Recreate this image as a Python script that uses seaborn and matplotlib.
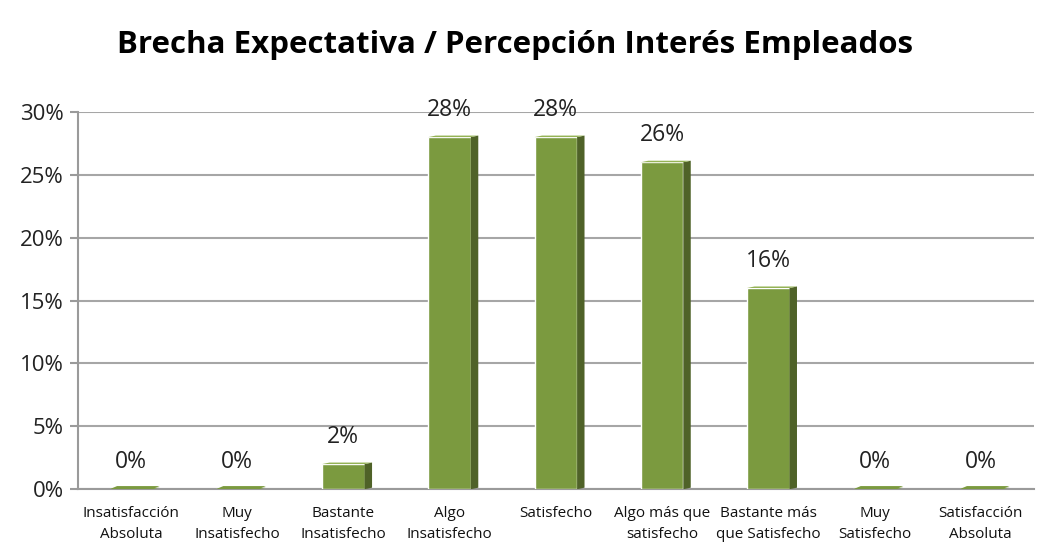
import matplotlib
matplotlib.use("Agg")
import matplotlib.pyplot as plt
import seaborn as sns
import pandas as pd
from matplotlib.patches import Polygon
from matplotlib.ticker import PercentFormatter

categories = ["Insatisfacción\nAbsoluta", "Muy\nInsatisfecho", "Bastante\nInsatisfecho",
              "Algo\nInsatisfecho", "Satisfecho", "Algo más que\nsatisfecho",
              "Bastante más\nque Satisfecho", "Muy\nSatisfecho", "Satisfacción\nAbsoluta"]
values = [0.0, 0.0, 0.02, 0.28, 0.28, 0.26, 0.16, 0.0, 0.0]
labels = ["0%", "0%", "2%", "28%", "28%", "26%", "16%", "0%", "0%"]

df = pd.DataFrame({"cat": categories, "val": values})

sns.set_theme(style="white")
plt.rcParams['font.family'] = ['Open Sans', 'DejaVu Sans']

fig = plt.figure(figsize=(10.37, 5.46), dpi=100)
ax = fig.add_axes([0.075, 0.104, 0.922, 0.691])

front = "#7B9A3F"
side = "#4F6228"
top = "#95B356"

sns.barplot(data=df, x="cat", y="val", color=front, width=0.4, saturation=1, ax=ax, zorder=3)

ax.set_ylim(0, 0.30)
ax.set_xlim(-0.5, len(categories) - 0.5)
ax.yaxis.set_major_formatter(PercentFormatter(1.0, decimals=0))
ax.set_yticks([0, 0.05, 0.10, 0.15, 0.20, 0.25, 0.30])
ax.grid(axis="y", color="#A6A6A6", linewidth=1.5, zorder=0)
ax.set_axisbelow(True)
for s in ["top", "right"]:
    ax.spines[s].set_visible(False)
ax.spines["left"].set_color("#9A9A9A")
ax.spines["left"].set_linewidth(1.5)
ax.spines["bottom"].set_color("#9A9A9A")
ax.spines["bottom"].set_linewidth(1.5)
ax.tick_params(axis="y", length=6, color="#9A9A9A", width=1.5, labelsize=16, pad=4, left=True)
ax.tick_params(axis="x", length=0, pad=12)
ax.set_xlabel("")
ax.set_ylabel("")
for lab in ax.get_yticklabels():
    lab.set_color("#222222")
for lab in ax.get_xticklabels():
    lab.set_family(["Liberation Sans Narrow", "Open Sans", "DejaVu Sans"])
    lab.set_fontsize(11)
    lab.set_linespacing(1.6)
    lab.set_color("#111111")

# 3D-like side and top faces derived from each bar patch
dx, dy = 0.07, 0.0012
for p in ax.patches:
    x0 = p.get_x()
    w = p.get_width()
    h = p.get_height()
    x1 = x0 + w
    ax.add_patch(Polygon([(x1, 0), (x1 + dx, dy), (x1 + dx, h + dy), (x1, h)],
                         closed=True, facecolor=side, edgecolor="none", zorder=3))
    ax.add_patch(Polygon([(x0, h), (x0 + dx, h + dy), (x1 + dx, h + dy), (x1, h)],
                         closed=True, facecolor=top if h > 0 else front, edgecolor="none", zorder=3))
    if h == 0:
        ax.add_patch(Polygon([(x0, 0), (x0 + dx, 0.0025), (x1 + dx, 0.0025), (x1, 0)],
                             closed=True, facecolor=front, edgecolor="none", zorder=3))

for i, (v, t) in enumerate(zip(values, labels)):
    ax.text(i, v + 0.012, t, ha="center", va="bottom", fontsize=16.5, color="#222222")

fig.text(0.497, 0.918, "Brecha Expectativa / Percepción Interés Empleados",
         ha="center", va="center", fontsize=22.5, fontweight="bold", color="black")

fig.savefig("out.png", dpi=100, facecolor="white")
